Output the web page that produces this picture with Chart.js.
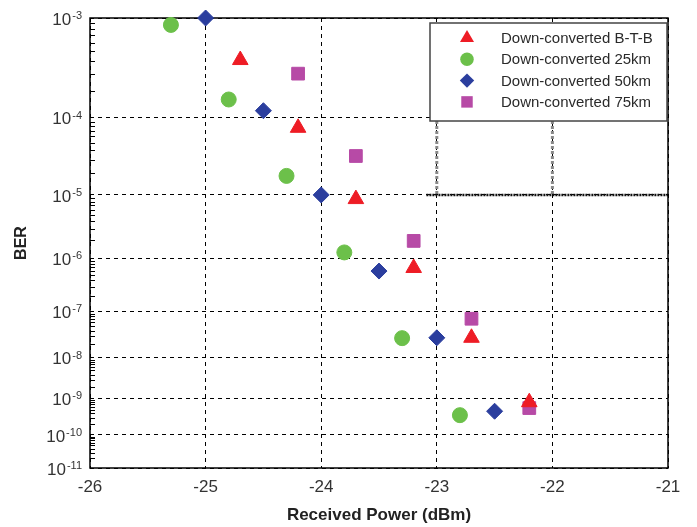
<!DOCTYPE HTML>
<html lang="en">
<head>
    <meta charset="utf-8">
    <script src="https://cdn.jsdelivr.net/npm/chart.js@4.4.0/dist/chart.umd.min.js"></script>
    <style>
        html, body { margin: 0; padding: 0; background: #fff; }
    </style>
</head>
<body>
    <canvas id="grafica-ber" width="697" height="527"></canvas>
</body>
</html>
<script>
    // datos (potencia en dBm, BER)
    const potenciaBTB = [-24.7, -24.2, -23.7, -23.2, -22.7, -22.2]
    const berBTB = [4.1e-4, 7.6e-5, 8.7e-6, 6.7e-7, 2.8e-8, 8.0e-10]

    const potencia25 = [-25.3, -24.8, -24.3, -23.8, -23.3, -22.8]
    const ber25 = [8.7e-4, 1.6e-4, 1.85e-5, 1.25e-6, 2.75e-8, 3.6e-10]

    const potencia50 = [-25.0, -24.5, -24.0, -23.5, -23.0, -22.5]
    const ber50 = [1.0e-3, 1.2e-4, 1.0e-5, 5.9e-7, 2.8e-8, 4.6e-10]

    const potencia75 = [-24.2, -23.7, -23.2, -22.7, -22.2]
    const ber75 = [3.0e-4, 3.4e-5, 1.95e-6, 7.1e-8, 5.6e-10]

    const nombresSeries = ['Down-converted B-T-B', 'Down-converted 25km', 'Down-converted 50km', 'Down-converted 75km']
    const exponentesY = [-3, -4, -5, -6, -7, -8, -9, -10, -11]
    const ticksX = [-26, -25, -24, -23, -22, -21]

    // escala de BER: -log10(-log10(BER))
    const transformarBER = (ber) => -Math.log10(-Math.log10(ber))

    const armarPuntos = (xs, ys) => xs.map((x, i) => ({ x: x, y: transformarBER(ys[i]) }))

    const estilos = [
        { color: '#ee1c25', forma: 'triangle', radio: 9 },
        { color: '#6cc04a', forma: 'circle', radio: 7.5 },
        { color: '#2b3e9e', forma: 'rectRot', radio: 8 },
        { color: '#b74aa6', forma: 'rect', radio: 9 }
    ]

    const dibujarMarcador = (ctx, forma, r, x, y, color) => {
        ctx.save()
        ctx.fillStyle = color
        ctx.beginPath()
        if (forma === 'triangle') {
            for (let k = 0; k < 3; k++) {
                const a = k * 2 * Math.PI / 3
                const px = x + Math.sin(a) * r
                const py = y - Math.cos(a) * r
                k === 0 ? ctx.moveTo(px, py) : ctx.lineTo(px, py)
            }
            ctx.closePath()
        } else if (forma === 'circle') {
            ctx.arc(x, y, r, 0, Math.PI * 2)
        } else if (forma === 'rectRot') {
            ctx.moveTo(x, y - r); ctx.lineTo(x + r, y); ctx.lineTo(x, y + r); ctx.lineTo(x - r, y)
            ctx.closePath()
        } else {
            const s = r * Math.SQRT1_2
            ctx.rect(x - s, y - s, 2 * s, 2 * s)
        }
        ctx.fill()
        ctx.restore()
    }

    const pluginEjes = {
        id: 'ejesBER',
        beforeDatasetsDraw(chart) {
            const { ctx, chartArea: a, scales } = chart
            const ey = scales.y
            ctx.save()
            // marcas menores del eje log
            ctx.strokeStyle = '#000'
            ctx.lineWidth = 1
            ctx.beginPath()
            for (let e = -11; e < -3; e++) {
                for (let k = 2; k <= 9; k++) {
                    const py = Math.round(ey.getPixelForValue(transformarBER(k * Math.pow(10, e)))) + 0.5
                    ctx.moveTo(a.left, py)
                    ctx.lineTo(a.left + 5, py)
                }
            }
            ctx.stroke()
            // lineas punteadas grises bajo la leyenda
            const arribaLeyenda = a.top + 5 + 98
            const y5 = ey.getPixelForValue(transformarBER(1e-5))
            ctx.setLineDash([3, 2])
            ctx.strokeStyle = '#8a8a8a'
            ctx.lineWidth = 3
            ctx.beginPath()
            ;[-23, -22].forEach(v => {
                const px = scales.x.getPixelForValue(v)
                ctx.moveTo(px, arribaLeyenda)
                ctx.lineTo(px, y5)
            })
            ctx.stroke()
            ctx.setLineDash([2, 1])
            ctx.strokeStyle = '#111'
            ctx.lineWidth = 2.5
            ctx.beginPath()
            ctx.moveTo(scales.x.getPixelForValue(-23.09), y5)
            ctx.lineTo(a.right, y5)
            ctx.stroke()
            ctx.setLineDash([])
            // marco
            ctx.lineWidth = 1.5
            ctx.strokeStyle = '#000'
            ctx.strokeRect(a.left, a.top, a.right - a.left, a.bottom - a.top)
            // etiquetas del eje y (10 con exponente)
            ctx.fillStyle = '#333'
            exponentesY.forEach(e => {
                const py = ey.getPixelForValue(transformarBER(Math.pow(10, e)))
                const textoExp = '-' + Math.abs(e)
                ctx.font = '11px "Liberation Sans", Arial, sans-serif'
                const anchoExp = ctx.measureText(textoExp).width
                ctx.textAlign = 'right'
                ctx.textBaseline = 'alphabetic'
                ctx.fillText(textoExp, a.left - 8, py + 1)
                ctx.font = '17px "Liberation Sans", Arial, sans-serif'
                ctx.textBaseline = 'middle'
                ctx.fillText('10', a.left - 9 - anchoExp, py + 2)
            })
            ctx.restore()
        },
        afterDraw(chart) {
            const { ctx, chartArea: a } = chart
            ctx.save()
            // leyenda
            const ancho = 237, alto = 98
            const izq = a.right - 1 - ancho, arriba = a.top + 5
            ctx.fillStyle = '#fff'
            ctx.fillRect(izq, arriba, ancho, alto)
            ctx.strokeStyle = '#444'
            ctx.lineWidth = 1.5
            ctx.strokeRect(izq, arriba, ancho, alto)
            ctx.font = '15px "Liberation Sans", Arial, sans-serif'
            ctx.textAlign = 'left'
            ctx.textBaseline = 'middle'
            nombresSeries.forEach((nombre, i) => {
                const fy = arriba + 15 + i * 21.3
                const est = estilos[i]
                dibujarMarcador(ctx, est.forma, est.radio * 0.9, izq + 37, fy, est.color)
                ctx.fillStyle = '#2a2a2a'
                ctx.fillText(nombre, izq + 71, fy + 1)
            })
            ctx.restore()
        }
    }

    const series = [
        armarPuntos(potenciaBTB, berBTB),
        armarPuntos(potencia25, ber25),
        armarPuntos(potencia50, ber50),
        armarPuntos(potencia75, ber75)
    ]

    const contenedor = document.querySelector('#grafica-ber')
    const grafica = new Chart(contenedor, {
        type: 'scatter',
        data: {
            datasets: series.map((datos, i) => ({
                label: nombresSeries[i],
                data: datos,
                pointStyle: estilos[i].forma,
                pointRadius: estilos[i].radio,
                pointBackgroundColor: estilos[i].color,
                pointBorderColor: estilos[i].color,
                pointBorderWidth: 1,
                clip: false
            }))
        },
        options: {
            responsive: false,
            animation: false,
            layout: { padding: { left: 0, top: 18, right: 29, bottom: 0 } },
            plugins: {
                legend: { display: false },
                tooltip: { enabled: false }
            },
            scales: {
                x: {
                    type: 'linear',
                    min: -26,
                    max: -21,
                    afterBuildTicks: (escala) => { escala.ticks = ticksX.map(v => ({ value: v })) },
                    afterFit: (escala) => { escala.height = 59 },
                    grid: { color: '#000', lineWidth: 1, drawTicks: false },
                    border: { display: false, dash: [4, 4] },
                    ticks: {
                        color: '#333',
                        padding: 9,
                        font: { family: '"Liberation Sans", Arial, sans-serif', size: 17 }
                    },
                    title: {
                        display: true,
                        text: 'Received Power (dBm)',
                        color: '#222',
                        padding: { top: 0, bottom: 1 },
                        font: { family: '"Liberation Sans", Arial, sans-serif', size: 17, weight: 'bold' }
                    }
                },
                y: {
                    type: 'linear',
                    min: transformarBER(1e-11),
                    max: transformarBER(1e-3),
                    afterBuildTicks: (escala) => {
                        escala.ticks = exponentesY.map(e => ({ value: transformarBER(Math.pow(10, e)) }))
                    },
                    afterFit: (escala) => { escala.width = 90 },
                    grid: { color: '#000', lineWidth: 1, drawTicks: false },
                    border: { display: false, dash: [4, 4] },
                    ticks: { display: false },
                    title: {
                        display: true,
                        text: 'BER',
                        color: '#222',
                        padding: { top: 12, bottom: 0 },
                        font: { family: '"Liberation Sans", Arial, sans-serif', size: 16, weight: 'bold' }
                    }
                }
            }
        },
        plugins: [pluginEjes]
    })
</script>
